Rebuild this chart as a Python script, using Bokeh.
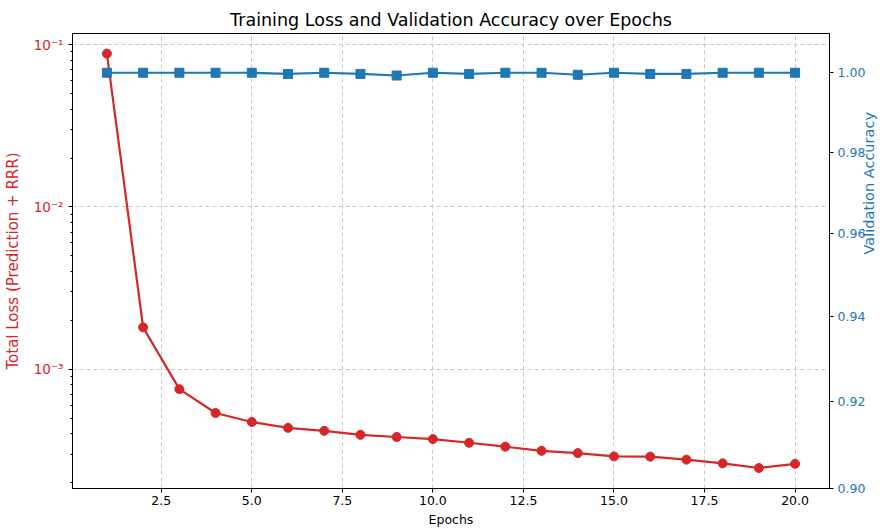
import math
from bokeh.plotting import figure
from bokeh.models import (Range1d, LinearAxis, FixedTicker, PrintfTickFormatter,
                          CustomJSTickFormatter, ColumnDataSource)
from bokeh.embed import file_html
from bokeh.resources import INLINE

epochs = list(range(1, 21))
total_loss = [0.088, 1.81e-3, 7.53e-4, 5.37e-4, 4.73e-4, 4.35e-4, 4.17e-4, 3.94e-4,
              3.82e-4, 3.71e-4, 3.52e-4, 3.33e-4, 3.14e-4, 3.04e-4, 2.90e-4, 2.89e-4,
              2.77e-4, 2.63e-4, 2.46e-4, 2.61e-4]
val_acc = [1.0, 1.0, 1.0, 1.0, 1.0, 0.9997, 1.0, 0.9997, 0.9993, 1.0,
           0.9997, 1.0, 1.0, 0.9995, 1.0, 0.9997, 0.9997, 1.0, 1.0, 1.0]

x_ticks = [2.5, 5.0, 7.5, 10.0, 12.5, 15.0, 17.5, 20.0]
loss_ticks = [1e-3, 1e-2, 1e-1]
loss_minor = [m * 10.0 ** k for k in (-4, -3, -2) for m in range(2, 10)]
acc_ticks = [0.90, 0.92, 0.94, 0.96, 0.98, 1.00]
acc_lo, acc_hi = 0.90, 1.01

RED = "#d62728"
BLUE = "#1f77b4"
FONT = "DejaVu Sans"

src = ColumnDataSource(dict(epoch=epochs, loss=total_loss, acc=val_acc))

p = figure(width=888, height=529, y_axis_type="log",
           x_range=Range1d(0.05, 20.95), y_range=Range1d(1.84e-4, 0.117),
           output_backend="svg", toolbar_location=None,
           min_border_left=70, min_border_right=56, min_border_top=33,
           min_border_bottom=39)
p.extra_y_ranges = {"acc": Range1d(acc_lo, acc_hi)}

p.title.text = "Training Loss and Validation Accuracy over Epochs"
p.title.align = "center"
p.title.text_font = FONT
p.title.text_font_size = "17.5px"
p.title.text_font_style = "normal"
p.title.text_color = "black"
p.title.standoff = 7

p.outline_line_color = "black"
p.outline_line_width = 1
p.outline_line_alpha = 1

# x axis
xa = p.xaxis[0]
xa.ticker = FixedTicker(ticks=x_ticks)
xa.formatter = PrintfTickFormatter(format="%.1f")
xa.axis_label = "Epochs"
xa.axis_label_text_font = FONT
xa.axis_label_text_font_size = "12.5px"
xa.axis_label_text_font_style = "normal"
xa.axis_label_text_color = "black"
xa.axis_label_standoff = 4
xa.major_label_text_font = FONT
xa.major_label_text_font_size = "12.5px"
xa.major_label_text_color = "black"
xa.major_label_standoff = 3
xa.major_tick_out = 4
xa.major_tick_in = 0
xa.minor_tick_line_color = None
xa.axis_line_color = "black"
xa.major_tick_line_color = "black"

# left log axis
ya = p.yaxis[0]
ya.ticker = FixedTicker(ticks=loss_ticks, minor_ticks=loss_minor)
ya.formatter = CustomJSTickFormatter(code="""
const sup = {"-": "\\u207b", "0": "\\u2070", "1": "\\u00b9", "2": "\\u00b2", "3": "\\u00b3",
             "4": "\\u2074", "5": "\\u2075", "6": "\\u2076", "7": "\\u2077", "8": "\\u2078", "9": "\\u2079"};
const e = Math.round(Math.log10(tick));
return "10" + String(e).split("").map(c => sup[c]).join("");
""")
ya.axis_label = "Total Loss (Prediction + RRR)"
ya.axis_label_text_font = FONT
ya.axis_label_text_font_size = "15px"
ya.axis_label_text_font_style = "normal"
ya.axis_label_text_color = RED
ya.axis_label_standoff = 9
ya.major_label_text_font = FONT
ya.major_label_text_font_size = "13.5px"
ya.major_label_text_color = RED
ya.major_label_standoff = 5
ya.major_tick_out = 4
ya.major_tick_in = 0
ya.minor_tick_out = 2
ya.minor_tick_in = 0
ya.axis_line_color = "black"
ya.major_tick_line_color = "black"
ya.minor_tick_line_color = "black"

# right axis (ticks)
ra = LinearAxis(y_range_name="acc")
ra.ticker = FixedTicker(ticks=acc_ticks)
ra.formatter = PrintfTickFormatter(format="%.2f")
ra.major_label_text_font = FONT
ra.major_label_text_font_size = "12.5px"
ra.major_label_text_color = BLUE
ra.major_label_standoff = 4
ra.major_tick_out = 4
ra.major_tick_in = 0
ra.minor_tick_line_color = None
ra.axis_line_color = "black"
ra.major_tick_line_color = "black"
p.add_layout(ra, "right")

# right axis title, reading bottom-to-top: a tick-less axis whose only label is the title
ra2 = LinearAxis(y_range_name="acc")
ra2.ticker = FixedTicker(ticks=[(acc_lo + acc_hi) / 2], minor_ticks=[])
ra2.formatter = CustomJSTickFormatter(code='return "Validation Accuracy";')
ra2.major_label_orientation = math.pi / 2
ra2.major_label_text_font = FONT
ra2.major_label_text_font_size = "14.5px"
ra2.major_label_text_color = BLUE
ra2.major_label_standoff = 1
ra2.major_tick_out = 0
ra2.major_tick_in = 0
ra2.major_tick_line_color = None
ra2.minor_tick_line_color = None
ra2.axis_line_color = None
p.add_layout(ra2, "right")

# grid
for g in (p.xgrid[0], p.ygrid[0]):
    g.grid_line_color = "#c8c8c8"
    g.grid_line_dash = "4 3"
    g.grid_line_width = 1

# loss
p.line("epoch", "loss", source=src, color=RED, line_width=2.2)
p.scatter("epoch", "loss", source=src, marker="circle", size=9,
          fill_color=RED, line_color=RED)

# accuracy
p.line("epoch", "acc", source=src, color=BLUE, line_width=2.2, y_range_name="acc")
p.scatter("epoch", "acc", source=src, marker="square", size=9,
          fill_color=BLUE, line_color=BLUE, y_range_name="acc")

with open("out.html", "w", encoding="utf-8") as f:
    f.write(file_html(p, INLINE))
